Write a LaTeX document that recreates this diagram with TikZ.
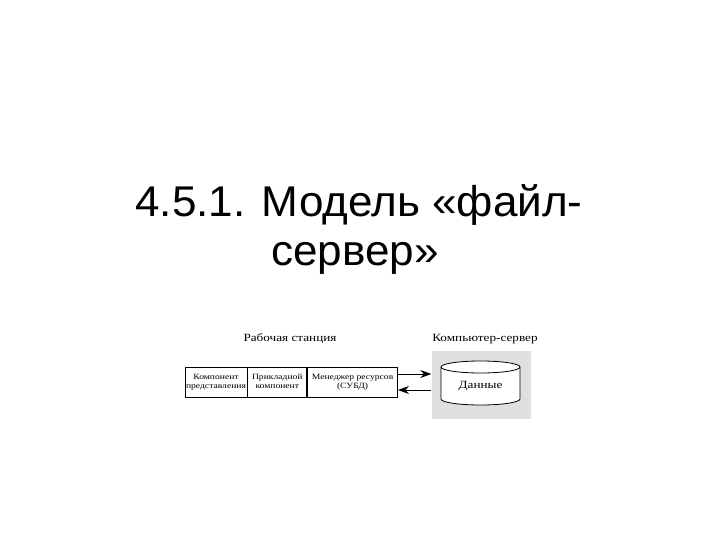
\documentclass[tikz,border=0pt]{standalone}
\usepackage{fontspec}
\setmainfont[FakeStretch=1.025]{Liberation Sans}
\newfontfamily\diagfont[FakeStretch=1.2]{Liberation Serif}
\usetikzlibrary{calc,arrows.meta}
\newcommand\twolines[2]{#1\strut\\#2\strut}
\begin{document}
\begin{tikzpicture}[x=1pt,y=-1pt,
  title/.style={font=\fontsize{43}{43}\selectfont, anchor=base, inner sep=0pt},
  label/.style={font=\diagfont\fontsize{11}{12}\selectfont, inner sep=0pt},
  cell/.style={draw, line width=0.8pt, minimum height=30pt, inner sep=0pt, align=center,
    font=\diagfont\fontsize{8}{9}\selectfont},
  conn/.style={line width=0.8pt, -{Stealth[length=11pt,width=8pt]}}]
\useasboundingbox (0,0) rectangle (720,540);
\fill[white] (0,0) rectangle (720,540);
% title
\node[title] (t1) at (359,216) {4.5.1. Модель «файл-};
\node[title] (t2) at (355,265) {сервер»};
% labels
\node[label] (lws) at (290,339) {Рабочая станция};
\node[label] (lsrv) at (485,339) {Компьютер-сервер};
% workstation cells
\node[cell, minimum width=62pt] (c1) at (216,382) {\twolines{Компонент}{представления}};
\node[cell, minimum width=59pt, anchor=west] (c2) at (c1.east) {\twolines{Прикладной}{компонент}};
\node[cell, minimum width=90pt, anchor=west] (c3) at (c2.east) {\twolines{Менеджер ресурсов}{(СУБД)}};
% server
\node[fill=gray!25, minimum width=99pt, minimum height=68pt, inner sep=0pt] (srv) at (481,385) {};
\draw[line width=0.8pt, fill=white] (441,367) -- (441,399)
  arc[start angle=180, end angle=360, x radius=39.5pt, y radius=6pt] -- (520,367);
\draw[line width=0.8pt, fill=white] (480.5,367) ellipse[x radius=39.5pt, y radius=6pt];
\node[label] (data) at (480.5,386) {Данные};
% connectors
\draw[conn] ([yshift=8pt]c3.east) -- ([yshift=8pt]c3.east -| srv.west);
\draw[conn] ([yshift=-8pt]c3.east -| srv.west) -- ([yshift=-8pt]c3.east);
\end{tikzpicture}
\end{document}
